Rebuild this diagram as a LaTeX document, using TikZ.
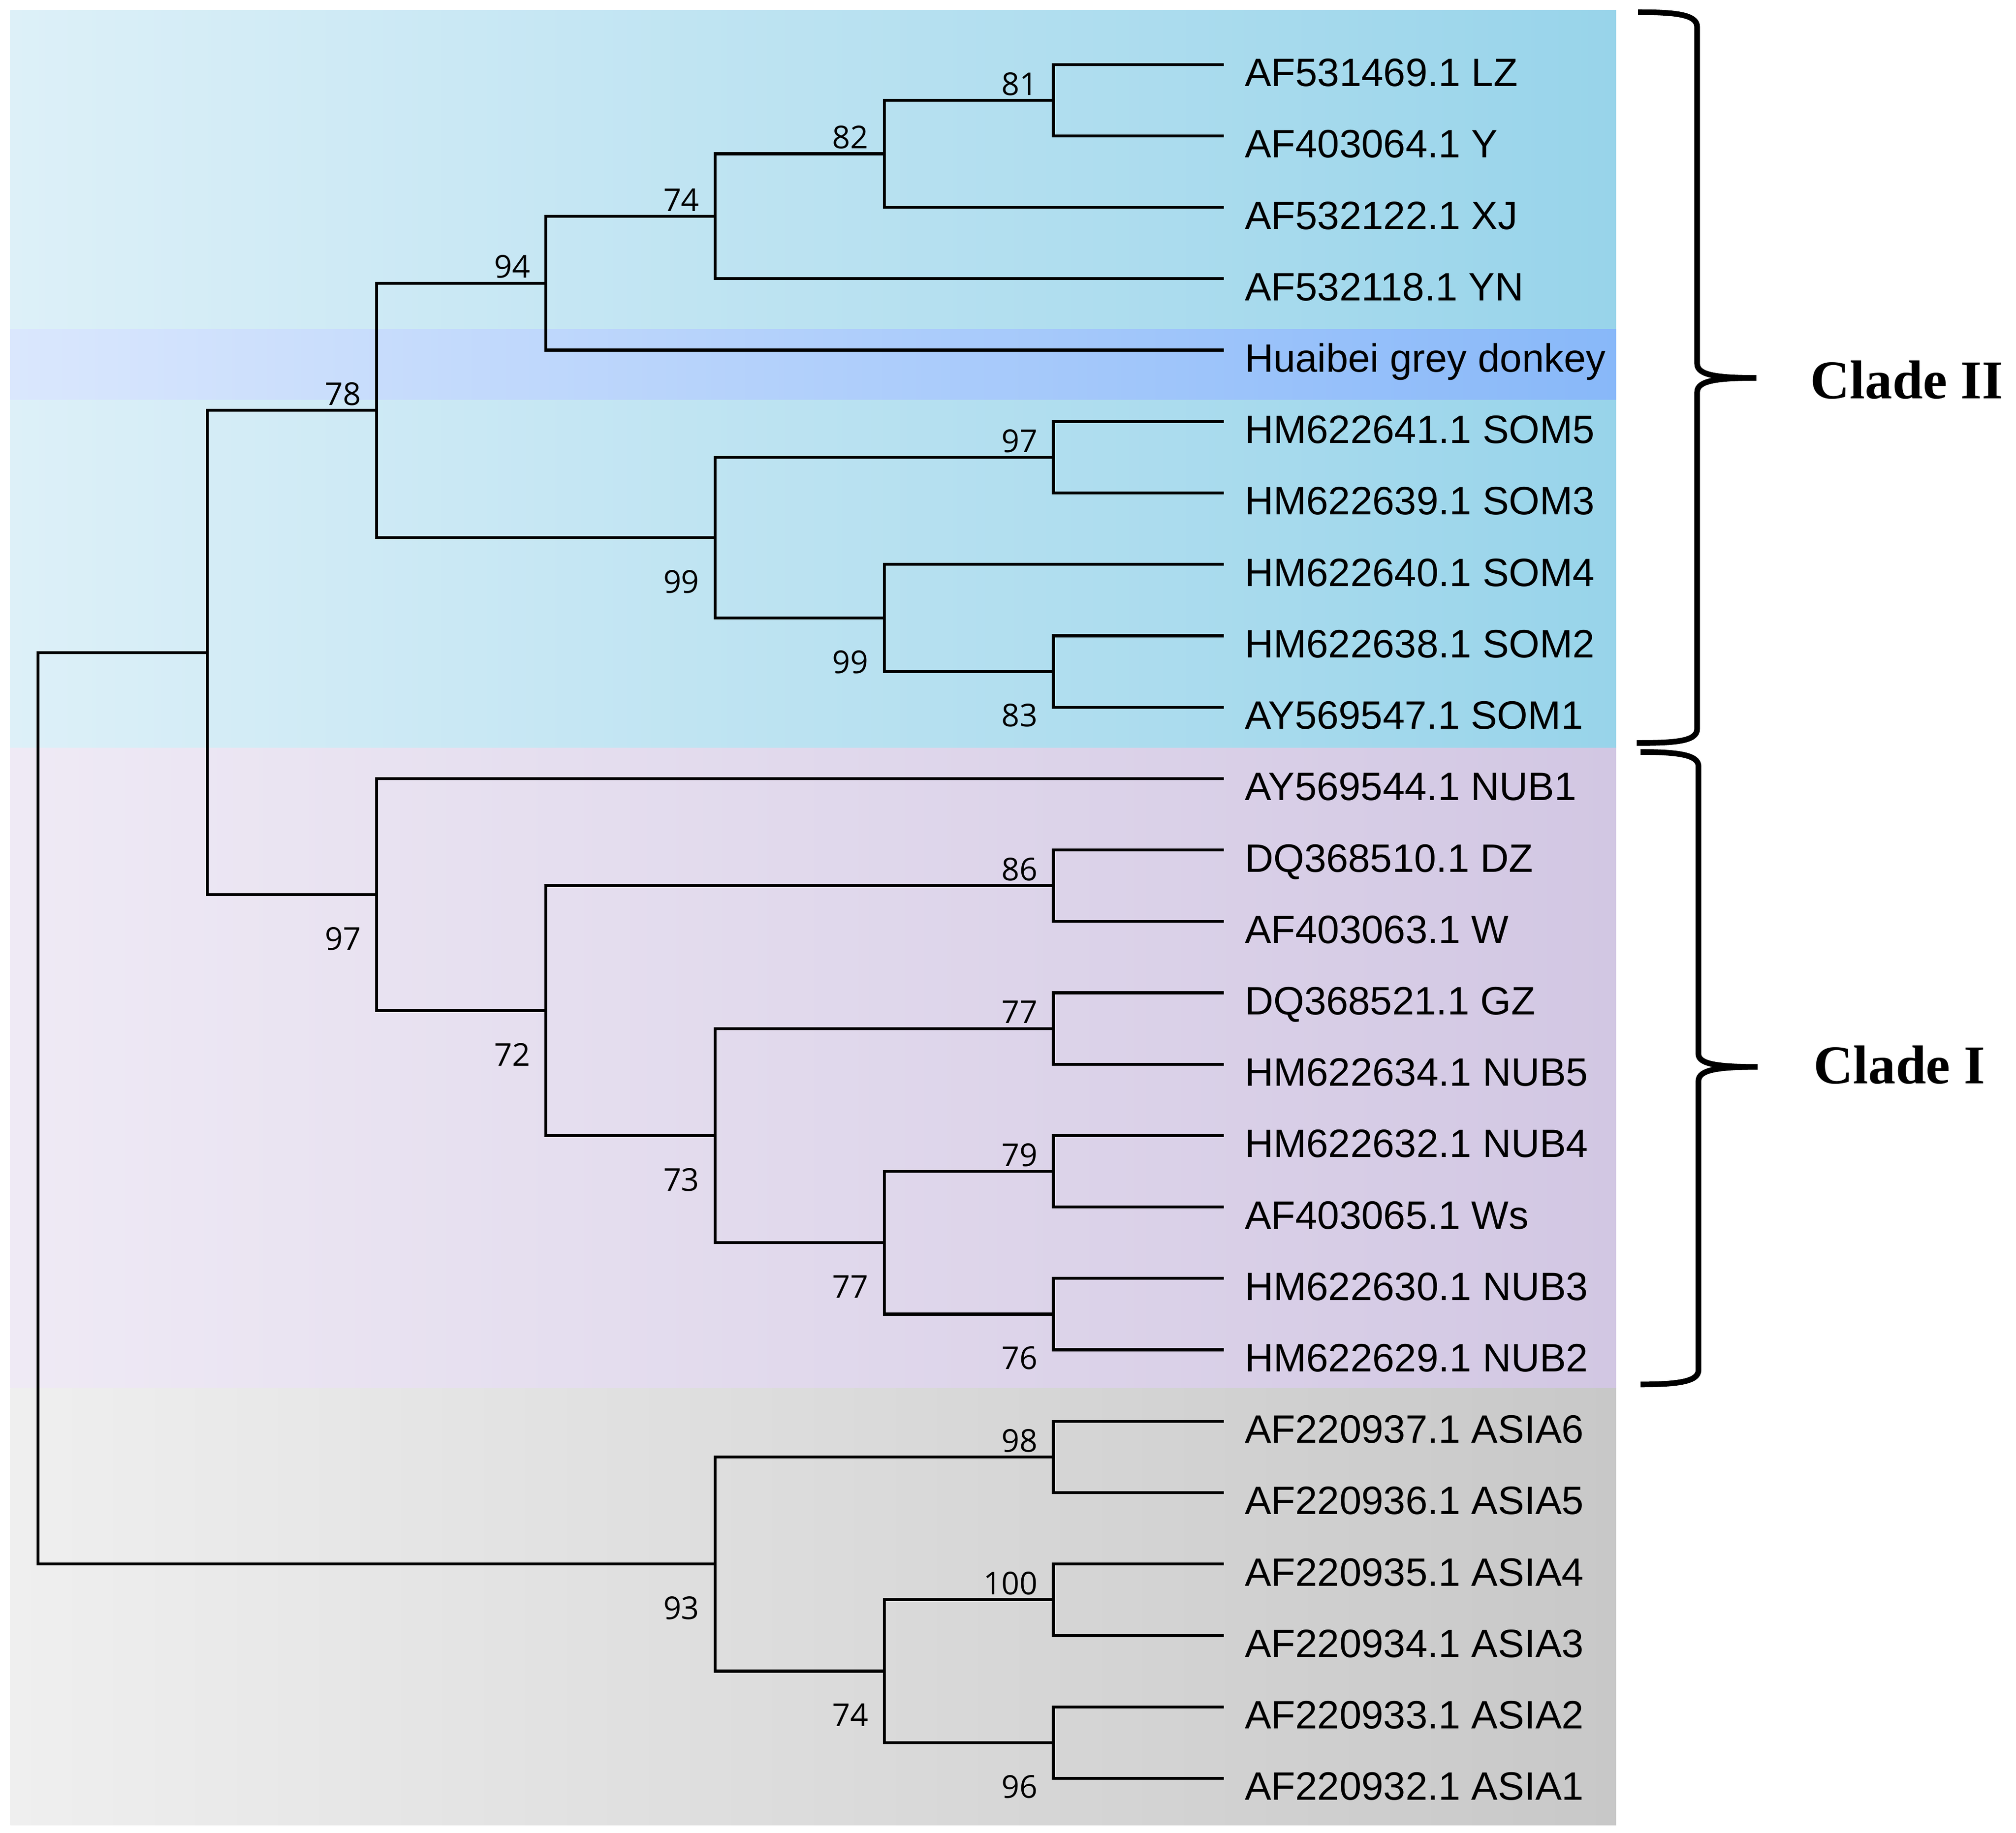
\documentclass[tikz,border=0pt]{standalone}
\usepackage{fontspec}
\setmainfont{Liberation Sans}
\newfontfamily\numfont{Open Sans}
\newfontfamily\cladefont{Liberation Serif}
\definecolor{blueL}{HTML}{DDF0F8}
\definecolor{blueR}{HTML}{98D4EA}
\definecolor{hlL}{HTML}{DAE7FD}
\definecolor{hlR}{HTML}{88B8F9}
\definecolor{purL}{HTML}{EFEAF5}
\definecolor{purR}{HTML}{D2C7E3}
\definecolor{gryL}{HTML}{EFEFEF}
\definecolor{gryR}{HTML}{C8C8C8}
\begin{document}
\begin{tikzpicture}[x=1pt,y=-1pt,
  tree/.style={line width=2.3pt, line join=miter, black},
  leaf/.style={font=\fontsize{30.8}{36}\selectfont, inner sep=0pt, anchor=base west},
  bsa/.style={font=\numfont\fontsize{24.5}{28}\selectfont, inner sep=0pt, anchor=base east},
  bup/.style={bsa, xshift=-12pt, yshift=4pt},
  bdn/.style={bsa, xshift=-12pt, yshift=-43pt},
  brace/.style={line width=4.4pt, black, line cap=butt},
  clade/.style={font=\cladefont\bfseries\fontsize{42.5}{50}\selectfont, inner sep=0pt, anchor=base west}]
\useasboundingbox (0,0) rectangle (1568,1425.7);
% backgrounds
\fill[left color=blueL, right color=blueR] (8,8) rectangle (1257,582);
\fill[left color=hlL, right color=hlR] (8,256) rectangle (1257,311);
\fill[left color=purL, right color=purR] (8,582) rectangle (1257,1080);
\fill[left color=gryL, right color=gryR] (8,1080) rectangle (1257,1420);
% leaves
\foreach \i/\t in {1/AF531469.1 LZ, 2/AF403064.1 Y, 3/AF532122.1 XJ, 4/AF532118.1 YN,
  5/Huaibei grey donkey, 6/HM622641.1 SOM5, 7/HM622639.1 SOM3, 8/HM622640.1 SOM4,
  9/HM622638.1 SOM2, 10/AY569547.1 SOM1, 11/AY569544.1 NUB1, 12/DQ368510.1 DZ,
  13/AF403063.1 W, 14/DQ368521.1 GZ, 15/HM622634.1 NUB5, 16/HM622632.1 NUB4,
  17/AF403065.1 Ws, 18/HM622630.1 NUB3, 19/HM622629.1 NUB2, 20/AF220937.1 ASIA6,
  21/AF220936.1 ASIA5, 22/AF220935.1 ASIA4, 23/AF220934.1 ASIA3, 24/AF220933.1 ASIA2,
  25/AF220932.1 ASIA1} {
  \pgfmathsetmacro\yy{50.2+55.55*(\i-1)}
  \coordinate (l\i) at (952,\yy);
  \node[leaf] (t\i) at (968,\yy+17) {\t};
}
% internal nodes
\coordinate (n81) at (819.3,77.98);
\coordinate (n82) at (687.7,119.64);
\coordinate (n74) at (556.1,168.24);
\coordinate (n94) at (424.5,220.32);
\coordinate (n97a) at (819.3,355.73);
\coordinate (n83) at (819.3,522.38);
\coordinate (n99b) at (687.7,480.71);
\coordinate (n99a) at (556.1,418.22);
\coordinate (n78) at (292.9,319.27);
\coordinate (n86) at (819.3,689.03);
\coordinate (n77a) at (819.3,800.13);
\coordinate (n79) at (819.3,911.23);
\coordinate (n76) at (819.3,1022.33);
\coordinate (n77b) at (687.7,966.78);
\coordinate (n73) at (556.1,883.45);
\coordinate (n72) at (424.5,786.24);
\coordinate (n97b) at (292.9,695.97);
\coordinate (nA) at (161.3,507.62);
\coordinate (n98) at (819.3,1133.43);
\coordinate (n100) at (819.3,1244.53);
\coordinate (n96) at (819.3,1355.63);
\coordinate (n74b) at (687.7,1300.08);
\coordinate (n93) at (556.1,1216.76);
\coordinate (root) at (29.7,862.19);
% branches
\draw[tree] (l1) -| (n81) |- (l2);
\draw[tree] (n81) -| (n82) |- (l3);
\draw[tree] (n82) -| (n74) |- (l4);
\draw[tree] (n74) -| (n94) |- (l5);
\draw[tree] (l6) -| (n97a) |- (l7);
\draw[tree] (l9) -| (n83) |- (l10);
\draw[tree] (l8) -| (n99b) |- (n83);
\draw[tree] (n97a) -| (n99a) |- (n99b);
\draw[tree] (n94) -| (n78) |- (n99a);
\draw[tree] (l12) -| (n86) |- (l13);
\draw[tree] (l14) -| (n77a) |- (l15);
\draw[tree] (l16) -| (n79) |- (l17);
\draw[tree] (l18) -| (n76) |- (l19);
\draw[tree] (n79) -| (n77b) |- (n76);
\draw[tree] (n77a) -| (n73) |- (n77b);
\draw[tree] (n86) -| (n72) |- (n73);
\draw[tree] (l11) -| (n97b) |- (n72);
\draw[tree] (n78) -| (nA) |- (n97b);
\draw[tree] (l20) -| (n98) |- (l21);
\draw[tree] (l22) -| (n100) |- (l23);
\draw[tree] (l24) -| (n96) |- (l25);
\draw[tree] (n100) -| (n74b) |- (n96);
\draw[tree] (n98) -| (n93) |- (n74b);
\draw[tree] (nA) -| (root) |- (n93);
% bootstrap values
\node[bup] (b81) at (n81) {81};
\node[bup] (b82) at (n82) {82};
\node[bup] (b74) at (n74) {74};
\node[bup] (b94) at (n94) {94};
\node[bup] (b78) at (n78) {78};
\node[bup] (b97a) at (n97a) {97};
\node[bdn] (b99a) at (n99a) {99};
\node[bdn] (b99b) at (n99b) {99};
\node[bdn] (b83) at (n83) {83};
\node[bdn] (b97b) at (n97b) {97};
\node[bup] (b86) at (n86) {86};
\node[bdn] (b72) at (n72) {72};
\node[bup] (b77a) at (n77a) {77};
\node[bdn] (b73) at (n73) {73};
\node[bup] (b79) at (n79) {79};
\node[bdn] (b77b) at (n77b) {77};
\node[bdn] (b76) at (n76) {76};
\node[bup] (b98) at (n98) {98};
\node[bdn] (b93) at (n93) {93};
\node[bup] (b100) at (n100) {100};
\node[bdn] (b74b) at (n74b) {74};
\node[bdn] (b96) at (n96) {96};
% braces
\draw[brace] (1274,9.5) .. controls (1302,9.5) and (1320,11) .. (1320,21)
  -- (1320,283) .. controls (1320,292) and (1336,294) .. (1366,294)
  .. controls (1336,294) and (1320,296) .. (1320,305)
  -- (1320,567) .. controls (1320,577) and (1302,578) .. (1273,578);
\draw[brace] (1276,585) .. controls (1304,585) and (1321,587) .. (1321,596)
  -- (1321,820) .. controls (1321,828) and (1337,830) .. (1367,830)
  .. controls (1337,830) and (1321,832) .. (1321,841)
  -- (1321,1066) .. controls (1321,1075) and (1304,1077) .. (1276,1077);
% clade labels
\node[clade] (c2) at (1408,310) {Clade II};
\node[clade] (c1) at (1410.5,843) {Clade I};
\end{tikzpicture}
\end{document}
